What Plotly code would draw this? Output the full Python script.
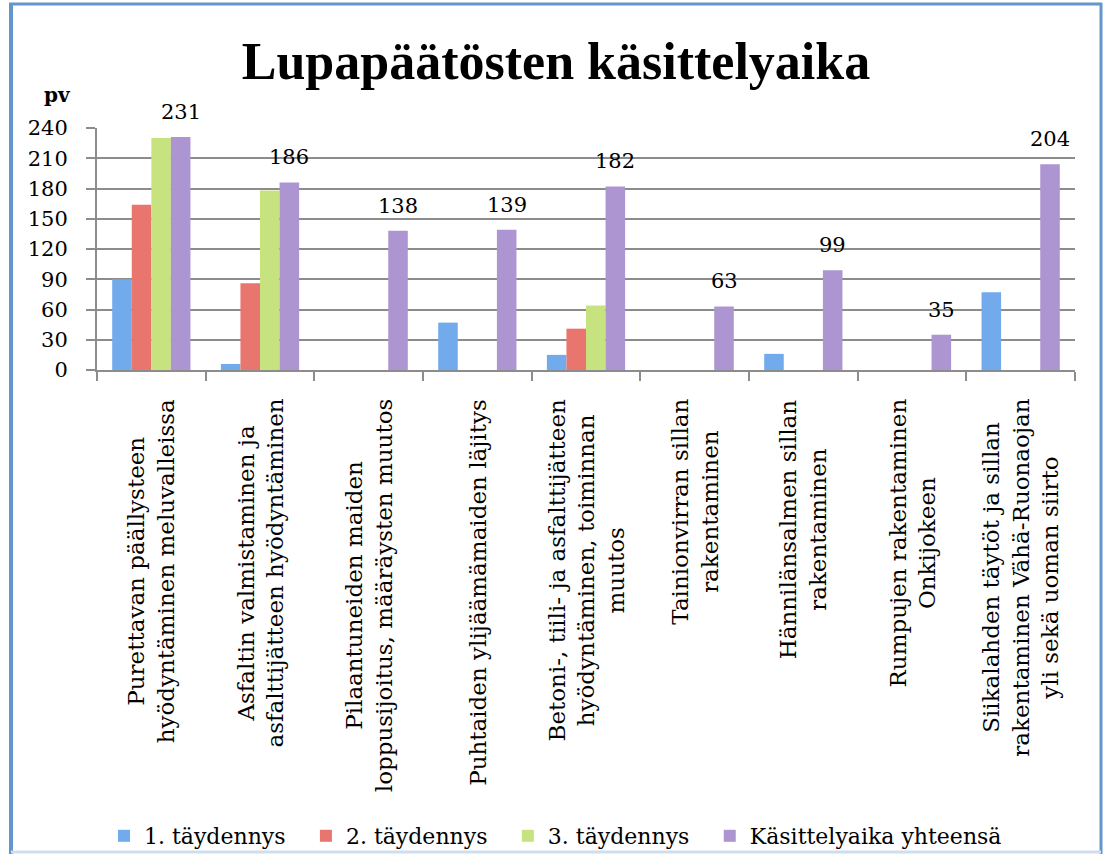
import plotly.graph_objects as go

categories = [
    "Purettavan päällysteen<br>hyödyntäminen meluvalleissa",
    "Asfaltin valmistaminen ja<br>asfalttijätteen hyödyntäminen",
    "Pilaantuneiden maiden<br>loppusijoitus, määräysten muutos",
    "Puhtaiden ylijäämämaiden läjitys",
    "Betoni-, tiili- ja asfalttijätteen<br>hyödyntäminen, toiminnan<br>muutos",
    "Tainionvirran sillan<br>rakentaminen",
    "Hännilänsalmen sillan<br>rakentaminen",
    "Rumpujen rakentaminen<br>Onkijokeen",
    "Siikalahden täytöt ja sillan<br>rakentaminen Vähä-Ruonaojan<br>yli sekä uoman siirto",
]
taydennys1 = [90, 6, 0, 47, 15, 0, 16, 0, 77]
taydennys2 = [164, 86, 0, 0, 41, 0, 0, 0, 0]
taydennys3 = [230, 178, 0, 0, 64, 0, 0, 0, 0]
yhteensa = [231, 186, 138, 139, 182, 63, 99, 35, 204]
series_names = ["1. täydennys", "2. täydennys", "3. täydennys", "Käsittelyaika yhteensä"]
yticks = [0, 30, 60, 90, 120, 150, 180, 210, 240]

colors = ["#72abec", "#e9766e", "#c6e380", "#ad95d1"]
SERIF = "DejaVu Serif"
TITLE_FONT = "Liberation Serif"

W, H = 1109, 854
L, R, T, B = 97, 34, 128, 484
pw, ph = W - L - R, H - T - B


def px_x(x):
    return (x - L) / pw


def px_y(y):
    return (H - B - y) / ph


BARGAP = 0.28
group_px = pw / len(categories) * (1 - BARGAP)
bar_px = group_px / 4
purple_offset = 1.5 * bar_px

LEGEND_PAD = "\u2002\u2009"  # spacing between legend entries

fig = go.Figure()
for i, (name, vals, c) in enumerate(zip(series_names, [taydennys1, taydennys2, taydennys3, yhteensa], colors)):
    shown = name + (LEGEND_PAD if i < len(series_names) - 1 else "")
    fig.add_trace(go.Bar(
        x=categories, y=vals, name=shown,
        marker=dict(color=c, line=dict(width=0)),
    ))

annotations = []
# category labels (centered multi-line, rotated)
for cat in categories:
    annotations.append(dict(
        x=cat, xref="x", y=0, yref="y", yanchor="top", xanchor="center",
        yshift=-27, textangle=-90, align="center", showarrow=False, text=cat,
        font=dict(family=SERIF, size=23, color="#000"),
    ))
# value labels on totals
for cat, v in zip(categories, yhteensa):
    annotations.append(dict(
        x=cat, xref="x", y=v, yref="y", yanchor="bottom", xanchor="center",
        xshift=purple_offset, yshift=11, showarrow=False, text=str(v),
        font=dict(family=SERIF, size=21, color="#000"),
    ))
annotations.append(dict(text="<b>pv</b>", xref="paper", yref="paper",
                        x=px_x(57), y=px_y(95), showarrow=False,
                        font=dict(family=SERIF, size=20, color="#000"),
                        xanchor="center", yanchor="middle"))

frame_col = "#6396cc"
shapes = [
    dict(type="line", xref="paper", yref="paper", x0=px_x(11), x1=px_x(11), y0=px_y(3), y1=px_y(854),
         line=dict(color=frame_col, width=4)),
    dict(type="line", xref="paper", yref="paper", x0=px_x(9), x1=px_x(1102), y0=px_y(4), y1=px_y(4),
         line=dict(color=frame_col, width=3)),
    dict(type="line", xref="paper", yref="paper", x0=px_x(1101), x1=px_x(1101), y0=px_y(3), y1=px_y(854),
         line=dict(color=frame_col, width=3)),
    dict(type="line", xref="paper", yref="paper", x0=px_x(11), x1=px_x(1101), y0=px_y(852), y1=px_y(852),
         line=dict(color="#cfdeee", width=3)),
]

fig.update_layout(
    width=W, height=H,
    margin=dict(l=L, r=R, t=T, b=B, autoexpand=False),
    paper_bgcolor="white", plot_bgcolor="white",
    barmode="group", bargap=BARGAP, bargroupgap=0,
    font=dict(family=SERIF, size=21, color="#000"),
    title=dict(text="<b>Lupapäätösten käsittelyaika</b>", x=556 / W, xanchor="center",
               y=1 - 61 / H, yanchor="middle",
               font=dict(family=TITLE_FONT, size=52, color="#000")),
    showlegend=True,
    legend=dict(orientation="h", x=px_x(104), xanchor="left", y=px_y(836), yanchor="middle",
                font=dict(family=SERIF, size=22, color="#000"), itemwidth=30,
                traceorder="normal", bgcolor="rgba(0,0,0,0)"),
    xaxis=dict(showticklabels=False, showgrid=False, showline=True, linecolor="#8c8c8c", linewidth=2,
               ticks="outside", tickson="boundaries", ticklen=9, tickcolor="#8c8c8c", tickwidth=2),
    yaxis=dict(range=[0, 240], tickvals=yticks, showgrid=True, gridcolor="#8c8c8c", gridwidth=2,
               showline=True, linecolor="#8c8c8c", linewidth=2, ticks="outside", ticklen=9,
               tickwidth=2, tickcolor="#8c8c8c", tickfont=dict(family=SERIF, size=21),
               ticklabelstandoff=14, zeroline=False),
    annotations=annotations,
    shapes=shapes,
)
fig.write_html("out.html", config={"displayModeBar": False},
               post_script="document.body.style.margin='0';document.body.style.overflow='hidden';")
